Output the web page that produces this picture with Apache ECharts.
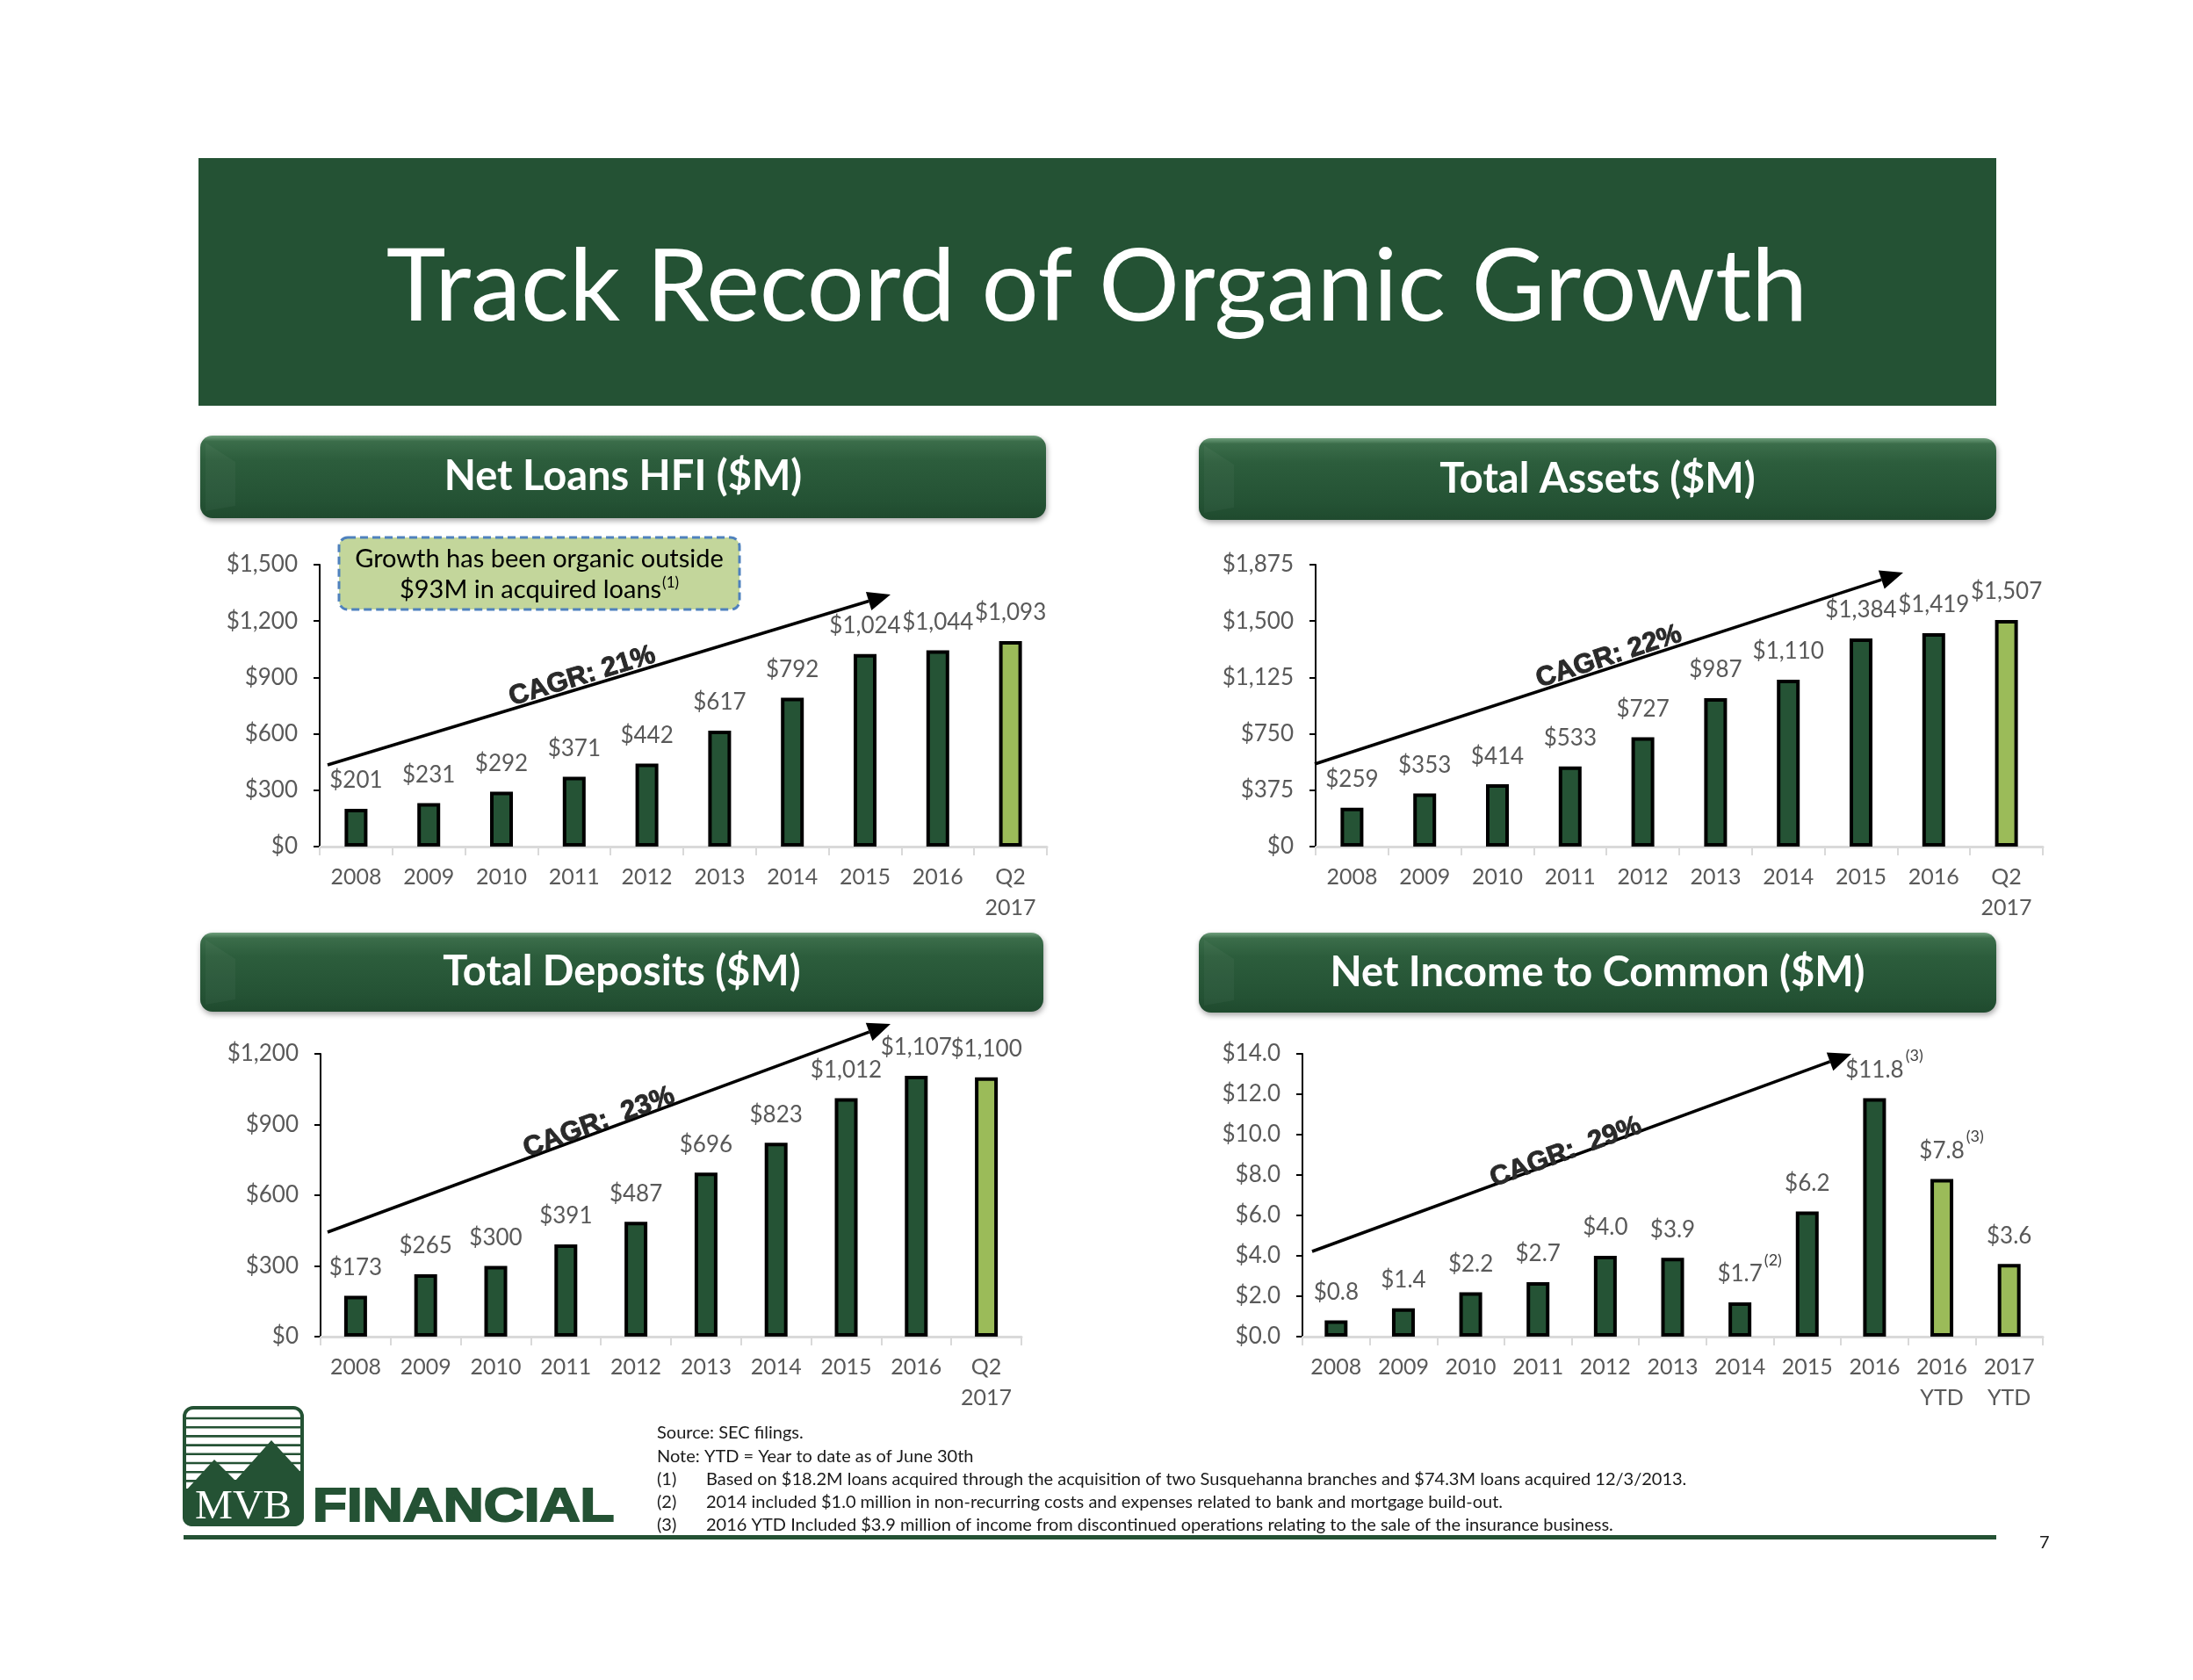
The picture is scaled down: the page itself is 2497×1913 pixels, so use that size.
<!DOCTYPE html>
<html>
<head>
<meta charset="utf-8">
<script src="https://cdn.jsdelivr.net/npm/echarts@6.0.0/dist/echarts.min.js"></script>
<style>
html,body{margin:0;padding:0;background:#fff;}
#chart{width:2497px;height:1913px;}
</style>
</head>
<body>
<div id="chart"></div>
<script>
// ---------------- data ----------------
const yearCategories = ['2008','2009','2010','2011','2012','2013','2014','2015','2016','Q2\n2017'];
const incomeCategories = ['2008','2009','2010','2011','2012','2013','2014','2015','2016','2016\nYTD','2017\nYTD'];
const netLoans = [201,231,292,371,442,617,792,1024,1044,1093];
const totalAssets = [259,353,414,533,727,987,1110,1384,1419,1507];
const totalDeposits = [173,265,300,391,487,696,823,1012,1107,1100];
const netIncome = [0.8,1.4,2.2,2.7,4.0,3.9,1.7,6.2,11.8,7.8,3.6];
const incomeNotes = ['','','','','','','(2)','','(3)','(3)',''];
const loansAxis = {min:0, max:1500, interval:300};
const assetsAxis = {min:0, max:1875, interval:375};
const depositsAxis = {min:0, max:1200, interval:300};
const incomeAxis = {min:0, max:14, interval:2};
const panelTitles = ['Net Loans HFI ($M)','Total Assets ($M)','Total Deposits ($M)','Net Income to Common ($M)'];
const cagrTexts = ['CAGR: 21%','CAGR: 22%','CAGR:  23%','CAGR:  29%'];
const footnotes = [
  ['', 'Source: SEC filings.'],
  ['', 'Note: YTD = Year to date as of June 30th'],
  ['(1)', 'Based on $18.2M loans acquired through the acquisition of two Susquehanna branches and $74.3M loans acquired 12/3/2013.'],
  ['(2)', '2014 included $1.0 million in non-recurring costs and expenses related to bank and mortgage build-out.'],
  ['(3)', '2016 YTD Included $3.9 million of income from discontinued operations relating to the sale of the insurance business.']
];

// ---------------- styles ----------------
const FONT = 'Lato, "Open Sans", sans-serif';
const DARK = '#255335';
const LIGHT = '#9BBB59';
const GRAY = '#595959';

const chart = echarts.init(document.getElementById('chart'), null, {renderer:'canvas'});

const grids = [
  {left:364, top:643, width:828, height:321},
  {left:1498, top:643, width:828, height:321},
  {left:365, top:1200, width:798, height:322},
  {left:1483, top:1200, width:843, height:322}
].map(g => Object.assign({outerBoundsMode:'none', containLabel:false}, g));

function money(v){ return '$' + v.toLocaleString('en-US'); }
function money1(v){ return '$' + v.toFixed(1); }

function xAxisFor(i, cats){
  return {
    type:'category', gridIndex:i, data:cats,
    axisLine:{show:true, lineStyle:{color:'#D9D9D9', width:3}},
    axisTick:{show:true, alignWithLabel:false, length:10, lineStyle:{color:'#D9D9D9', width:2}},
    axisLabel:{interval:0, color:GRAY, fontSize:25, fontFamily:FONT, lineHeight:35, margin:17},
    splitLine:{show:false}
  };
}
function yAxisFor(i, ax, fmt){
  return {
    type:'value', gridIndex:i, min:ax.min, max:ax.max, interval:ax.interval,
    axisLine:{show:true, lineStyle:{color:'#000', width:2}},
    axisTick:{show:true, inside:false, length:7, lineStyle:{color:'#000', width:2}},
    axisLabel:{color:GRAY, fontSize:26, fontFamily:FONT, margin:25, formatter:fmt},
    splitLine:{show:false}
  };
}
const richLabel = {
  v:{fontSize:26, fontFamily:FONT, color:GRAY, lineHeight:50, verticalAlign:'middle'},
  sup:{fontSize:18, fontFamily:FONT, color:'#404040', lineHeight:18, verticalAlign:'top', padding:[0,0,0,2]},
  pad:{fontSize:18, fontFamily:FONT, color:'rgba(0,0,0,0)', lineHeight:18, verticalAlign:'top', padding:[0,2,0,0]}
};
function barSeries(i, data, lightCount, fmt, notes){
  const n = data.length;
  return {
    type:'bar', xAxisIndex:i, yAxisIndex:i, data:data, barWidth:26,
    itemStyle:{
      color:function(p){ return p.dataIndex >= n - lightCount ? LIGHT : DARK; },
      borderColor:'#000', borderWidth:4
    },
    label:{
      show:true, position:'top', distance:7, rich:richLabel,
      formatter:function(p){
        const note = notes ? notes[p.dataIndex] : '';
        const t = '{v|' + fmt(p.value) + '}';
        return note ? '{pad|' + note + '}' + t + '{sup|' + note + '}' : t;
      }
    }
  };
}

// ---------------- graphics ----------------
const G = [];
// title banner
G.push({type:'rect', shape:{x:226, y:180, width:2047, height:282}, style:{fill:'#245234'}});
G.push({type:'text', x:1249, y:328, style:{text:'Track Record of Organic Growth', fill:'#fff', font:'115px ' + FONT, align:'center', verticalAlign:'middle'}});

// panel pills
const pills = [
  {x:228, y:496, w:963, h:94},
  {x:1365, y:499, w:908, h:93},
  {x:228, y:1062, w:960, h:90},
  {x:1365, y:1062, w:908, h:91}
];
pills.forEach((p, i) => {
  G.push({type:'rect', shape:{x:p.x, y:p.y, width:p.w, height:p.h, r:14},
    style:{
      fill:{type:'linear', x:0, y:0, x2:0, y2:1, colorStops:[
        {offset:0, color:'#6f9f7c'}, {offset:0.07, color:'#3b6d4a'}, {offset:0.3, color:'#2c5d3c'},
        {offset:0.8, color:'#245234'}, {offset:1, color:'#1f4a2e'}]},
      shadowBlur:6, shadowColor:'rgba(0,0,0,0.35)', shadowOffsetY:3, shadowOffsetX:1
    }});
  G.push({type:'polygon', shape:{points:[[p.x+6, p.y+8],[p.x+40, p.y+30],[p.x+40, p.y+p.h-14],[p.x+6, p.y+p.h-8]]},
    style:{fill:'rgba(255,255,255,0.035)'}});
  G.push({type:'text', x:p.x + p.w/2, y:p.y + p.h/2, style:{text:panelTitles[i], fill:'#fff', font:'bold 47px ' + FONT, align:'center', verticalAlign:'middle'}});
});

// CAGR arrows
const arrows = [
  {x1:373, y1:871, x2:1014, y2:677, tx:663, ty:770},
  {x1:1497, y1:870, x2:2167, y2:652, tx:1832, ty:748},
  {x1:373, y1:1403, x2:1014, y2:1166, tx:682, ty:1278},
  {x1:1494, y1:1425, x2:2108, y2:1200, tx:1783, ty:1312}
];
arrows.forEach((a, i) => {
  const ang = Math.atan2(a.y2 - a.y1, a.x2 - a.x1);
  const L = 26, W = 11;
  const bx = a.x2 - L*Math.cos(ang), by = a.y2 - L*Math.sin(ang);
  const px = -Math.sin(ang)*W, py = Math.cos(ang)*W;
  G.push({type:'line', shape:{x1:a.x1, y1:a.y1, x2:bx, y2:by}, style:{stroke:'#000', lineWidth:3.5}});
  G.push({type:'polygon', shape:{points:[[a.x2, a.y2],[bx+px, by+py],[bx-px, by-py]]}, style:{fill:'#000'}});
  G.push({type:'text', x:a.tx, y:a.ty, rotation:-ang,
    style:{text:cagrTexts[i], fill:'#2a2a2a', stroke:'#2a2a2a', lineWidth:1, font:'bold 31px "Liberation Sans", Arial, sans-serif', align:'center', verticalAlign:'middle'}});
});

// annotation box
G.push({type:'rect', shape:{x:386, y:612, width:456, height:82, r:10},
  style:{fill:'#C3D69B', stroke:'#4F81BD', lineWidth:3, lineDash:[9,5]}});
G.push({type:'text', x:614, y:637, style:{text:'Growth has been organic outside', fill:'#000', font:'29px ' + FONT, align:'center', verticalAlign:'middle'}});
G.push({type:'text', x:614, y:672, style:{text:'{a|$93M in acquired loans}{s|(1)}', align:'center', verticalAlign:'middle',
  rich:{a:{fontSize:29, fontFamily:FONT, fill:'#000', color:'#000', lineHeight:34, verticalAlign:'middle'},
        s:{fontSize:17, fontFamily:FONT, fill:'#000', color:'#000', lineHeight:17, verticalAlign:'top', padding:[0,0,0,1]}}}});

// footnotes
const fy = [1632, 1659, 1685, 1711, 1737];
footnotes.forEach((f, i) => {
  if (f[0]) {
    G.push({type:'text', x:748, y:fy[i], style:{text:f[0], fill:'#1a1a1a', font:'20px ' + FONT, verticalAlign:'middle'}});
    G.push({type:'text', x:804, y:fy[i], style:{text:f[1], fill:'#1a1a1a', font:'20px ' + FONT, verticalAlign:'middle'}});
  } else {
    G.push({type:'text', x:748, y:fy[i], style:{text:f[1], fill:'#1a1a1a', font:'20px ' + FONT, verticalAlign:'middle'}});
  }
});

// logo
G.push({type:'rect', shape:{x:210, y:1603, width:134, height:133, r:10}, style:{fill:'#fff', stroke:'#245234', lineWidth:4}});
for (let k = 0; k < 8; k++) {
  const yy = 1615 + k*10.2;
  G.push({type:'line', shape:{x1:212, y1:yy, x2:342, y2:yy}, style:{stroke:'#245234', lineWidth:2.6}});
}
G.push({type:'polygon', shape:{points:[[212,1697],[244,1662],[268,1686],[309,1640],[342,1676],[342,1700],[212,1700]]}, style:{fill:'#245234'}});
G.push({type:'rect', shape:{x:208, y:1695, width:138, height:43, r:[0,0,10,10]}, style:{fill:'#245234'}});
G.push({type:'text', x:277, y:1717, scaleX:1.05,
  style:{text:'MVB', fill:'#fff', font:'46px "Liberation Serif", "DejaVu Serif", serif', align:'center', verticalAlign:'middle'}});
G.push({type:'text', x:356, y:1717, scaleX:1.18,
  style:{text:'FINANCIAL', fill:'#245234', stroke:'#245234', lineWidth:2, font:'bold 54px "Liberation Sans", Arial, sans-serif', align:'left', verticalAlign:'middle'}});
G.push({type:'rect', shape:{x:209, y:1748, width:2064, height:5}, style:{fill:'#245234'}});
G.push({type:'text', x:2322, y:1757, style:{text:'7', fill:'#1a1a1a', font:'20px ' + FONT, verticalAlign:'middle'}});

// ---------------- option ----------------
chart.setOption({
  animation:false,
  backgroundColor:'#fff',
  grid:grids,
  xAxis:[xAxisFor(0, yearCategories), xAxisFor(1, yearCategories), xAxisFor(2, yearCategories), xAxisFor(3, incomeCategories)],
  yAxis:[yAxisFor(0, loansAxis, money), yAxisFor(1, assetsAxis, money), yAxisFor(2, depositsAxis, money), yAxisFor(3, incomeAxis, money1)],
  series:[
    barSeries(0, netLoans, 1, money),
    barSeries(1, totalAssets, 1, money),
    barSeries(2, totalDeposits, 1, money),
    barSeries(3, netIncome, 2, money1, incomeNotes)
  ],
  graphic:{elements:G}
});
</script>
</body>
</html>
